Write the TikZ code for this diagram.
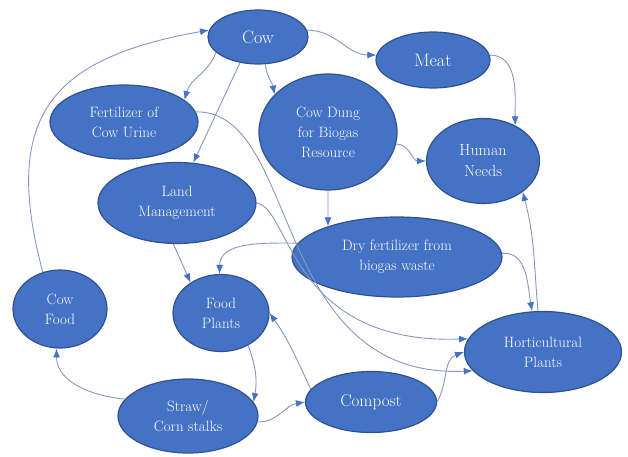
\documentclass[tikz,border=0pt]{standalone}
\usepackage{fontspec}
\usetikzlibrary{shapes.geometric,arrows.meta}
\definecolor{nodeblue}{RGB}{68,114,196}
\definecolor{rimblue}{RGB}{47,82,143}
\definecolor{linkgray}{RGB}{135,150,195}

\begin{document}
\begin{tikzpicture}[x=1pt,y=1pt,
    blob/.style={ellipse,draw=rimblue,line width=1.2pt,fill=nodeblue,text=white,
      inner sep=0pt,align=center,font=\fontsize{15}{20}\selectfont},
    link/.style={draw=linkgray,line width=0.9pt,-{Latex[length=9pt,width=7pt,color=nodeblue]}}]
    \useasboundingbox (0,0) rectangle (628,456);

    \node[blob,minimum width=100pt,minimum height=54pt,font=\fontsize{18}{22}\selectfont] (cow) at (258,419) {Cow};
    \node[blob,minimum width=114pt,minimum height=56pt,font=\fontsize{18}{22}\selectfont] (meat) at (433,396) {Meat};
    \node[blob,minimum width=148pt,minimum height=74pt] (urine) at (124,334) {Fertilizer of\\Cow Urine};
    \node[blob,minimum width=138pt,minimum height=116pt] (dung) at (328,324) {Cow Dung\\for Biogas\\Resource};
    \node[blob,minimum width=113pt,minimum height=85pt,font=\fontsize{16}{21}\selectfont] (human) at (483,295) {Human\\Needs};
    \node[blob,minimum width=158pt,minimum height=81pt] (land) at (177,253) {Land\\Management};
    \node[blob,minimum width=210pt,minimum height=80pt] (dry) at (397,199) {Dry fertilizer from\\biogas waste};
    \node[blob,minimum width=94pt,minimum height=78pt] (cowfood) at (60,147) {Cow\\Food};
    \node[blob,minimum width=96pt,minimum height=77pt] (food) at (221,143) {Food\\Plants};
    \node[blob,minimum width=157pt,minimum height=81pt] (hort) at (543,104) {Horticultural\\Plants};
    \node[blob,minimum width=131pt,minimum height=61pt,font=\fontsize{17}{21}\selectfont] (compost) at (371,54) {Compost};
    \node[blob,minimum width=140pt,minimum height=74pt] (straw) at (188,40) {Straw/\\Corn stalks};

    \draw[link] (cowfood.115) to[out=105,in=190,looseness=1.4] (cow.172);
    \draw[link] (cow.200) to[out=250,in=75] (urine.20);
    \draw[link] (cow.235) -- (land.68);
    \draw[link] (cow.285) to[out=275,in=100] (dung.145);
    \draw[link] (cow.8) to[out=0,in=180] (meat.175);
    \draw[link] (meat.5) to[out=0,in=90] (human.48);
    \draw[link] (dung.350) to[out=0,in=180] (human.180);
    \draw[link] (dung.south) -- (dry.156);
    \draw[link] (hort.97) to[out=95,in=285] (human.322);
    \draw[link] (dry.172) to[out=180,in=90] (food.92);
    \draw[link] (dry.2) to[out=5,in=100] (hort.105);
    \draw[link] (land.265) -- (food.135);
    \draw[link] (urine.8) .. controls +(105,2) and +(-203,-9) .. (hort.195);
    \draw[link] (land.0) .. controls +(34,-5) and +(-179,-6) .. (hort.170);
    \draw[link] (food.310) to[out=290,in=80] (straw.12);
    \draw[link] (straw.165) to[out=175,in=270] (cowfood.265);
    \draw[link] (straw.355) to[out=0,in=190] (compost.180);
    \draw[link] (compost.168) to[out=115,in=305] (food.east);
    \draw[link] (compost.0) to[out=60,in=200] (hort.180);
\end{tikzpicture}
\end{document}
